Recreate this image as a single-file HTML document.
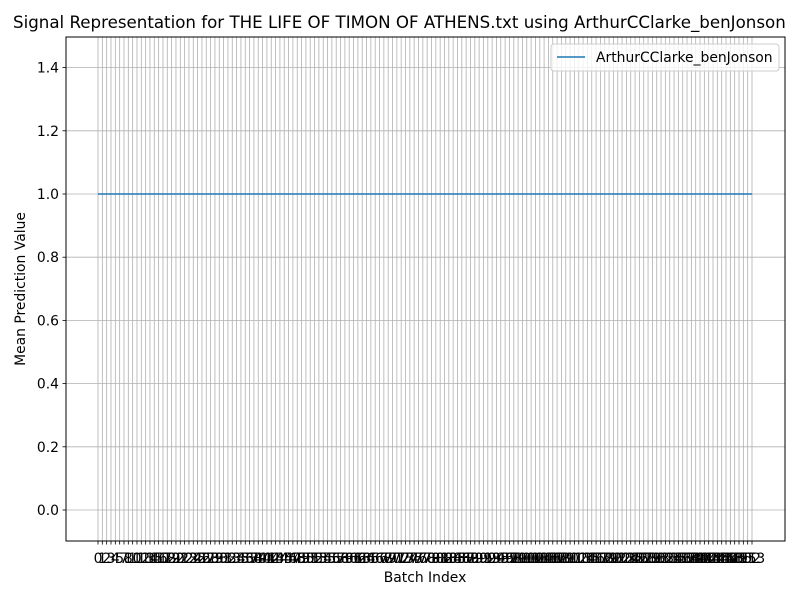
<!DOCTYPE html>
<html><head><meta charset="utf-8"><style>
body{margin:0;background:#fff;}
svg{display:block;font-family:"DejaVu Sans","Liberation Sans",sans-serif;}
</style></head><body>
<svg id="chart" width="800" height="600" viewBox="0 0 800 600">
<rect width="800" height="600" fill="#fff"/>
<g id="grid"></g>
<g id="xticks"></g>
<g id="yticks"></g>
<path id="series-line" fill="none" stroke="#1f77b4" stroke-width="1.5"/>
<rect x="66" y="37" width="719" height="504" fill="none" stroke="#000" stroke-width="1"/>
<text x="13" y="28" font-size="16.67" text-anchor="start">Signal Representation for THE LIFE OF TIMON OF ATHENS.txt using ArthurCClarke_benJonson</text>
<text x="425" y="582" font-size="13.9" text-anchor="middle">Batch Index</text>
<text x="0" y="0" font-size="13.9" text-anchor="middle" transform="translate(25,289) rotate(-90)">Mean Prediction Value</text>
<g>
<rect x="551" y="44" width="228" height="27" rx="3" fill="#fff" fill-opacity="0.8" stroke="#ccc"/>
<line x1="557" y1="57" x2="585" y2="57" stroke="#1f77b4" stroke-width="1.5"/>
<text x="596" y="62" font-size="13.9">ArthurCClarke_benJonson</text>
</g>
</svg>
<script>
const yTicks=[0.0,0.2,0.4,0.6,0.8,1.0,1.2,1.4];
const yTickLabels=["0.0","0.2","0.4","0.6","0.8","1.0","1.2","1.4"];
const batchIndex=[];
for(let i=0;i<=153;i++){if(i!==6&&i!==9)batchIndex.push(i);}
const values=[1,1,1,1,1,1,1,1,1,1,1,1,1,1,1,1,1,1,1,1,1,1,1,1,1,1,1,1,1,1,1,1,1,1,1,1,1,1,1,1,1,1,1,1,1,1,1,1,1,1,1,1,1,1,1,1,1,1,1,1,1,1,1,1,1,1,1,1,1,1,1,1,1,1,1,1,1,1,1,1,1,1,1,1,1,1,1,1,1,1,1,1,1,1,1,1,1,1,1,1,1,1,1,1,1,1,1,1,1,1,1,1,1,1,1,1,1,1,1,1,1,1,1,1,1,1,1,1,1,1,1,1,1,1,1,1,1,1,1,1,1,1,1,1,1,1,1,1,1,1,1,1];
const NS="http://www.w3.org/2000/svg";
const n=batchIndex.length;
function xs(i){return 98+(752-98)*i/(n-1);}
function ys(v){return 510-(v-0)*316;}
const grid=document.getElementById('grid'),xt=document.getElementById('xticks'),yt=document.getElementById('yticks');
function mk(tag,attrs,parent){const e=document.createElementNS(NS,tag);for(const k in attrs)e.setAttribute(k,attrs[k]);parent.appendChild(e);return e;}
yTicks.forEach((v,k)=>{
 const y=ys(v);
 const g=mk('line',{x1:66,x2:785,y1:y,y2:y,stroke:'#b0b0b0','stroke-width':0.8},grid);
 
 
 mk('line',{x1:62.5,x2:66,y1:y,y2:y,stroke:'#000','stroke-width':0.8},yt);
 const t=mk('text',{x:59,y:y+5,'font-size':13.9,'text-anchor':'end'},yt);
 t.textContent=yTickLabels[k];
 
 
});
batchIndex.forEach((b,i)=>{
 const x=xs(i);
 const g=mk('line',{x1:x,x2:x,y1:37,y2:541,stroke:'#b0b0b0','stroke-width':0.8},grid);
 
 
 mk('line',{x1:x,x2:x,y1:541,y2:544.5,stroke:'#000','stroke-width':0.8},xt);
 const t=mk('text',{x:x,y:563,'font-size':13.9,'text-anchor':'middle'},xt);
 t.textContent=String(b);
 
 
});
let d='';
for(let i=0;i<n;i++){const v=values[i]!==undefined?values[i]:values[values.length-1];d+=(i?'L':'M')+xs(i)+','+ys(v);}
document.getElementById('series-line').setAttribute('d',d);
</script>
</body></html>
